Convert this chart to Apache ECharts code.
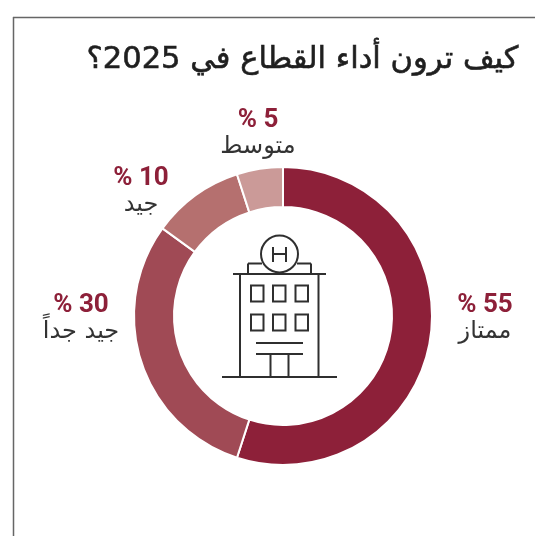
<!DOCTYPE html>
<html dir="rtl">
<head>
<meta charset="utf-8">
<style>
html, body { margin: 0; padding: 0; background: #fff; }
#chart { width: 535px; height: 536px; }
</style>
<script src="https://cdn.jsdelivr.net/npm/echarts@6/dist/echarts.min.js"></script>
</head>
<body>
<div id="chart"></div>
<script>
var chartTitle = 'كيف ترون أداء القطاع في 2025؟';
var categories = ['ممتاز', 'جيد جداً', 'جيد', 'متوسط'];
var values = [55, 30, 10, 5];
var sliceColors = ['#8d2039', '#a04a55', '#b5706f', '#cb9a98'];
// label centres, same order as the categories
var labelSpots = [[485, 318], [81, 318], [141, 191], [258, 133]];

var arabicFont = '"DejaVu Sans", "Noto Sans", sans-serif';
var iconColor = '#2f2f2f';
var frameColor = '#666666';

function iconLine(x1, y1, x2, y2) {
    return {
        type: 'line',
        silent: true,
        shape: { x1: x1, y1: y1, x2: x2, y2: y2 },
        style: { stroke: iconColor, lineWidth: 2 }
    };
}
function frameLine(x1, y1, x2, y2) {
    return {
        type: 'line',
        silent: true,
        shape: { x1: x1, y1: y1, x2: x2, y2: y2 },
        style: { stroke: frameColor, lineWidth: 1.5 }
    };
}
function iconWindow(x, y) {
    return {
        type: 'rect',
        silent: true,
        shape: { x: x, y: y, width: 12.5, height: 16 },
        style: { fill: 'none', stroke: iconColor, lineWidth: 2 }
    };
}

// frame and the hotel drawing in the middle of the ring
var extras = [
    frameLine(13, 17.5, 535, 17.5),
    frameLine(13.5, 17, 13.5, 536),
    iconLine(233, 274, 326, 274),
    iconLine(240, 274, 240, 377),
    iconLine(318.5, 274, 318.5, 377),
    iconLine(222, 377, 337, 377),
    iconLine(256, 343, 303, 343),
    iconLine(256, 354, 303, 354),
    iconLine(270.5, 354, 270.5, 377),
    iconLine(288.5, 354, 288.5, 377),
    iconLine(248, 274, 248, 263.5),
    iconLine(311, 274, 311, 263.5),
    iconLine(248, 263.5, 262, 263.5),
    iconLine(297, 263.5, 311, 263.5),
    {
        type: 'circle',
        silent: true,
        shape: { cx: 279.5, cy: 254, r: 18.5 },
        style: { fill: '#fff', stroke: iconColor, lineWidth: 2 }
    },
    iconLine(273, 247, 273, 262),
    iconLine(286, 247, 286, 262),
    iconLine(273, 254, 286, 254)
];
[251, 273, 295.5].forEach(function (x) {
    extras.push(iconWindow(x, 285.5));
    extras.push(iconWindow(x, 314.5));
});

var myChart = echarts.init(document.getElementById('chart'), null, { renderer: 'canvas' });

var option = {
    animation: false,
    backgroundColor: '#ffffff',
    title: {
        text: chartTitle,
        right: 11,
        top: 40,
        textStyle: {
            fontFamily: arabicFont,
            fontSize: 30.6,
            fontWeight: 'normal',
            color: '#1f1f1f',
            textBorderColor: '#1f1f1f',
            textBorderWidth: 0.6
        }
    },
    graphic: extras,
    series: [
        {
            type: 'pie',
            center: [283, 316],
            radius: [109, 149],
            startAngle: 90,
            clockwise: true,
            silent: true,
            itemStyle: { borderColor: '#ffffff', borderWidth: 2 },
            color: sliceColors,
            data: categories.map(function (name, i) {
                return { name: name, value: values[i] };
            }),
            labelLine: { show: false },
            label: {
                show: true,
                position: 'outside',
                align: 'center',
                overflow: 'none',
                formatter: function (p) {
                    return '{pct|' + p.value + ' %}\n{name|' + p.name + '}';
                },
                rich: {
                    pct: {
                        fontFamily: 'Roboto, sans-serif',
                        fontSize: 26,
                        fontWeight: 'bold',
                        color: '#8d2039',
                        lineHeight: 28,
                        align: 'center'
                    },
                    name: {
                        fontFamily: arabicFont,
                        fontSize: 24,
                        color: '#333333',
                        lineHeight: 26,
                        align: 'center'
                    }
                }
            },
            labelLayout: function (params) {
                var spot = labelSpots[params.dataIndex];
                return { x: spot[0], y: spot[1], align: 'center', verticalAlign: 'middle' };
            }
        }
    ]
};

myChart.setOption(option);
</script>
</body>
</html>
